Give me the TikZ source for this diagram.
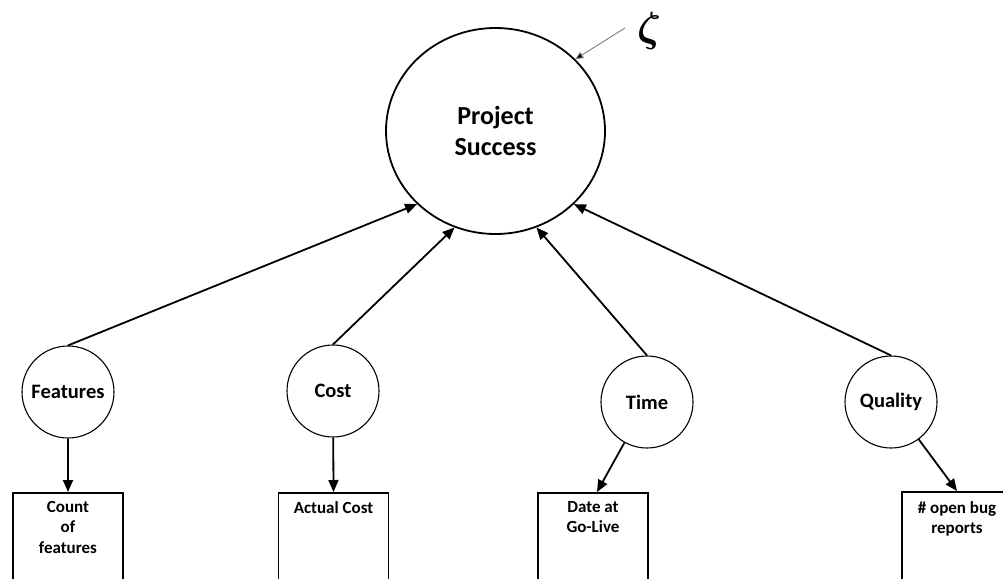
\RequirePackage{fix-cm}
\documentclass[tikz,border=0pt]{standalone}
\usepackage{fontspec}
\setmainfont{Carlito}
\usetikzlibrary{arrows.meta,shapes.geometric}
\begin{document}
\begin{tikzpicture}[x=1pt,y=-1pt,
  construct/.style={ellipse,draw,line width=1.8pt,minimum width=219pt,minimum height=206pt,
    inner sep=0pt,align=center,font=\fontsize{26}{31}\selectfont\bfseries},
  latent/.style={circle,draw,line width=1.1pt,minimum size=92pt,inner sep=0pt,
    font=\fontsize{20.5}{22}\selectfont\bfseries},
  indicator/.style={rectangle,draw,line width=1.8pt,minimum width=110pt,minimum height=130pt,
    anchor=north,inner sep=0pt},
  boxtext/.style={anchor=north,inner sep=0pt,align=center,
    font=\fontsize{17}{20.5}\selectfont\bfseries},
  path/.style={line width=1.8pt,-{Triangle[length=12pt,width=10pt]}},
  errpath/.style={draw=gray,line width=0.9pt,-{Triangle[length=8pt,width=7pt,fill=black]}}
]
\useasboundingbox (0,0) rectangle (1003,578);
\fill[white] (0,0) rectangle (1003,578);
\clip (0,0) rectangle (1003,578);

% central construct and its disturbance term
\node[construct] (ps) at (495.5,131) {Project\\Success};
\node[font=\fontsize{42}{42}\selectfont\boldmath] (zeta) at (649,31) {$\zeta$};
\coordinate (zs) at (625,28);
\draw[errpath] (zs) -- (ps.42);

% dimensions
\node[latent] (f) at (68,392) {Features};
\node[latent] (c) at (333,391) {Cost};
\node[latent] (t) at (647,402) {Time};
\node[latent] (q) at (891,402) {Quality};

% measured indicators (boxes run past the lower edge)
\node[indicator] (fb) at (68,492) {};
\node[indicator] (cb) at (333.5,492) {};
\node[indicator] (tb) at (593,492) {};
\node[indicator] (qb) at (957,491) {};
\node[boxtext] (fbt) at (68,501) {Count\\of\\features};
\node[boxtext] (cbt) at (333.5,501) {Actual Cost};
\node[boxtext] (tbt) at (593,501) {Date at\\Go-Live};
\node[boxtext] (qbt) at (957,501) {\# open bug\\reports};

% paths into the construct
\draw[path] (f.north) -- (ps.223.7);
\draw[path] (c.north) -- (ps.247.3);
\draw[path] (t.north) -- (ps.293.2);
\draw[path] (q.north) -- (ps.317);

% paths to the indicators
\draw[path] (f) -- (fb.north);
\draw[path] (c) -- (cb.north);
\draw[path] (t) -- ([xshift=4pt]tb.north);
\draw[path] (q) -- (qb.north);
\end{tikzpicture}
\end{document}
